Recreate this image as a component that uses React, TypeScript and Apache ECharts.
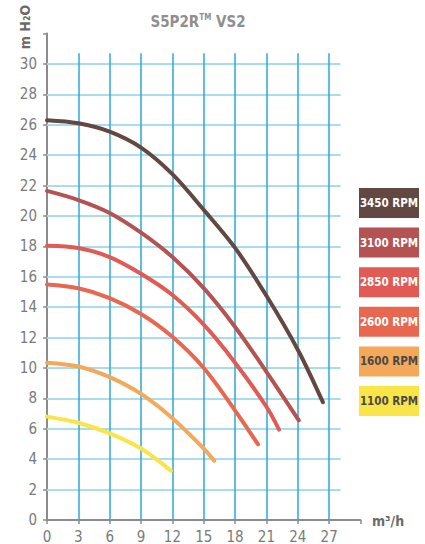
import React, { useEffect, useRef } from "react";
import * as echarts from "echarts";

const titleMain = "S5P2R";
const titleMark = "TM";
const titleTail = " VS2";
const yAxisName = "m H₂O";
const xAxisName = "m³/h";

const seriesNames = ["3450 RPM", "3100 RPM", "2850 RPM", "2600 RPM", "1600 RPM", "1100 RPM"];
const seriesColors = ["#634841", "#b55353", "#e15a54", "#e8684f", "#f4a85a", "#f9e548"];
const legendTextColors = ["#ffffff", "#ffffff", "#ffffff", "#ffffff", "#4a4a4a", "#4a4a4a"];

const flow3450 = [0, 3, 6, 9, 12, 15, 18, 21, 24, 26.4];
const head3450 = [26.3, 26.1, 25.55, 24.5, 22.75, 20.4, 17.9, 14.75, 11.2, 7.75];
const flow3100 = [0, 3, 6, 9, 12, 15, 18, 21, 24.1];
const head3100 = [21.65, 21.05, 20.2, 18.9, 17.3, 15.25, 12.7, 9.75, 6.55];
const flow2850 = [0, 3, 6, 9, 12, 15, 18, 21, 22.2];
const head2850 = [18.05, 17.9, 17.3, 16.2, 14.8, 12.85, 10.35, 7.45, 5.95];
const flow2600 = [0, 3, 6, 9, 12, 15, 18, 20.2];
const head2600 = [15.5, 15.25, 14.6, 13.55, 12.05, 10.0, 7.2, 4.97];
const flow1600 = [0, 3, 6, 9, 12, 15, 16.0];
const head1600 = [10.35, 10.1, 9.4, 8.3, 6.7, 4.7, 3.9];
const flow1100 = [0, 3, 6, 9, 11.85];
const head1100 = [6.8, 6.4, 5.7, 4.7, 3.25];

const xTicks = [0, 3, 6, 9, 12, 15, 18, 21, 24, 27];
const yTicks = [0, 2, 4, 6, 8, 10, 12, 14, 16, 18, 20, 22, 24, 26, 28, 30];
const xMax = 30;
const yMax = 32;
const hGridEnd = 28.1;
const vGridEnd = 30.7;

const flows = [flow3450, flow3100, flow2850, flow2600, flow1600, flow1100];
const heads = [head3450, head3100, head2850, head2600, head1600, head1100];

const FONT = "'DejaVu Sans Condensed', 'Roboto', sans-serif";

export default function App() {
  const ref = useRef<HTMLDivElement>(null);
  useEffect(() => {
    if (!ref.current) return;
    const chart = echarts.init(ref.current, undefined, { renderer: "svg" });

    const hLines = yTicks
      .filter((y) => y > 0)
      .map((y) => [{ coord: [0, y] }, { coord: [hGridEnd, y] }]);
    const vLines = xTicks
      .filter((x) => x > 0)
      .map((x) => [{ coord: [x, 0] }, { coord: [x, vGridEnd] }]);

    const curveSeries = seriesNames.map((name, i) => ({
      name,
      type: "line",
      smooth: 0.33,
      symbol: "none",
      z: 5,
      lineStyle: { color: seriesColors[i], width: 4, cap: "round" },
      data: flows[i].map((x, j) => [x, heads[i][j]]),
    }));

    const legendGraphics: any[] = [];
    seriesNames.forEach((name, i) => {
      const top = 188 + i * 39.6;
      legendGraphics.push({
        type: "rect",
        left: 359,
        top,
        shape: { width: 60, height: 30 },
        style: { fill: seriesColors[i] },
      });
      legendGraphics.push({
        type: "text",
        x: 389,
        y: top + 15,
        style: {
          text: name,
          fill: legendTextColors[i],
          font: `bold 11.5px ${FONT}`,
          textAlign: "center",
          textVerticalAlign: "middle",
        },
      });
    });

    chart.setOption({
      animation: false,
      backgroundColor: "#ffffff",
      title: {
        text: `{a|${titleMain}}{s|${titleMark}}{a|${titleTail}}`,
        left: 193,
        top: 8,
        textAlign: "center",
        textStyle: {
          rich: {
            a: { color: "#8f8f8f", fontSize: 15, fontFamily: FONT, lineHeight: 18 },
            s: { color: "#8f8f8f", fontSize: 8, fontFamily: FONT, verticalAlign: "top", lineHeight: 18, padding: [0, 0, 8, 0] },
          },
        },
      },
      grid: { left: 47, top: 33.6, width: 313.5, height: 486.4, containLabel: false },
      xAxis: {
        type: "value",
        min: 0,
        max: xMax,
        interval: 3,
        axisLine: { show: true, lineStyle: { color: "#8c8c8c", width: 2 } },
        axisTick: { show: true, length: 4, lineStyle: { color: "#8c8c8c", width: 1.5 } },
        splitLine: { show: false },
        axisLabel: {
          color: "#7a7a7a",
          fontSize: 15,
          fontFamily: FONT,
          margin: 9,
          formatter: (v: number) => (xTicks.includes(v) ? String(v) : ""),
        },
      },
      yAxis: {
        type: "value",
        min: 0,
        max: yMax,
        interval: 2,
        axisLine: { show: true, lineStyle: { color: "#8c8c8c", width: 2 } },
        axisTick: { show: true, length: 4, lineStyle: { color: "#8c8c8c", width: 1.5 } },
        splitLine: { show: false },
        axisLabel: {
          color: "#7a7a7a",
          fontSize: 15,
          fontFamily: FONT,
          margin: 10,
          formatter: (v: number) => (yTicks.includes(v) ? String(v) : ""),
        },
      },
      graphic: [
        {
          type: "text",
          x: 25,
          y: 27,
          rotation: Math.PI / 2,
          style: {
            text: yAxisName,
            fill: "#6a6a6a",
            font: `bold 14px ${FONT}`,
            textAlign: "center",
            textVerticalAlign: "middle",
          },
        },
        {
          type: "text",
          x: 388,
          y: 521,
          style: {
            text: xAxisName,
            fill: "#6a6a6a",
            font: `bold 14px ${FONT}`,
            textAlign: "center",
            textVerticalAlign: "middle",
          },
        },
        ...legendGraphics,
      ],
      series: [
        {
          type: "line",
          data: [],
          silent: true,
          z: 1,
          markLine: {
            silent: true,
            symbol: "none",
            label: { show: false },
            lineStyle: { color: "#a9dcec", width: 2, type: "solid" },
            data: hLines,
          },
        },
        {
          type: "line",
          data: [],
          silent: true,
          z: 2,
          markLine: {
            silent: true,
            symbol: "none",
            label: { show: false },
            lineStyle: { color: "#2aa8da", width: 1.5, type: "solid" },
            data: vLines,
          },
        },
        ...curveSeries,
      ],
    });
    return () => chart.dispose();
  }, []);
  return (
    <div
      ref={ref}
      style={{ position: "fixed", left: 0, top: 0, width: 425, height: 544 }}
    />
  );
}
